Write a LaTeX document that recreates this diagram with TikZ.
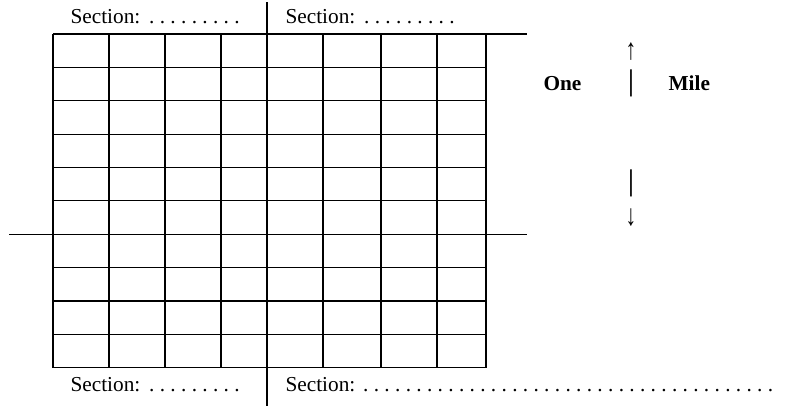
\documentclass[tikz,border=0pt]{standalone}
\usepackage{fontspec}
\setmainfont{Liberation Serif}
\usepackage{graphicx}
\frenchspacing
\begin{document}
\begin{tikzpicture}[x=1pt,y=-1pt,line width=1.1pt]
\tikzset{
  lbl/.style={inner sep=0pt,anchor=base west,font=\fontsize{21.3}{25}\selectfont},
  blbl/.style={inner sep=0pt,anchor=base west,font=\fontsize{21.3}{25}\selectfont\bfseries},
  sym/.style={inner sep=0pt,font=\fontsize{21.3}{25}\selectfont},
  gridline/.style={draw=black,line width=1.1pt}
}
\useasboundingbox (0,0) rectangle (785,408);
% grid
\foreach \x in {53,109,165,221,267,323,381,437,486}
  \draw[gridline] (\x,34) -- (\x,367.7);
\foreach \i in {0,...,10}
  \draw[gridline] (53,34+33.37*\i) -- (486,34+33.37*\i);
% extension lines
\coordinate (topR) at (486,34);
\coordinate (topE) at (527,34);
\coordinate (midL) at (9,234.2);
\coordinate (midR) at (527,234.2);
\coordinate (vT) at (267,2);
\coordinate (vB) at (267,406);
\draw[gridline] (topR) -- (topE);
\draw[gridline] (midL) -- (midR);
\draw[gridline] (vT) -- (vB);
% section labels
\node[lbl] (s1) at (70,23.5) {Section:\kern3.5pt{} . . . . . . . . .};
\node[lbl] (s2) at (285,23.5) {Section:\kern3.5pt{} . . . . . . . . .};
\node[lbl] (s3) at (70,391) {Section:\kern3.5pt{} . . . . . . . . .};
\node[lbl] (s4) at (285,391) {Section:\kern2.5pt{} . . . . . . . . . . . . . . . . . . . . . . . . . . . . . . . . . . . . . . .};
% scale
\node[blbl] (one) at (543,90) {One};
\node[blbl] (mile) at (668,90) {Mile};
\node[sym,font=\fontsize{21.3}{25}\selectfont\bfseries] (bar1) at (631,83.3) {\scalebox{1.15}[1.4]{|}};
\node[sym,font=\fontsize{21.3}{25}\selectfont\bfseries] (bar2) at (631,183.3) {\scalebox{1.15}[1.4]{|}};
\node[sym] (up) at (631,51.5) {\scalebox{1}[1.4]{↑}};
\node[sym] (down) at (631,217.5) {\scalebox{1}[1.4]{↓}};
\end{tikzpicture}
\end{document}
